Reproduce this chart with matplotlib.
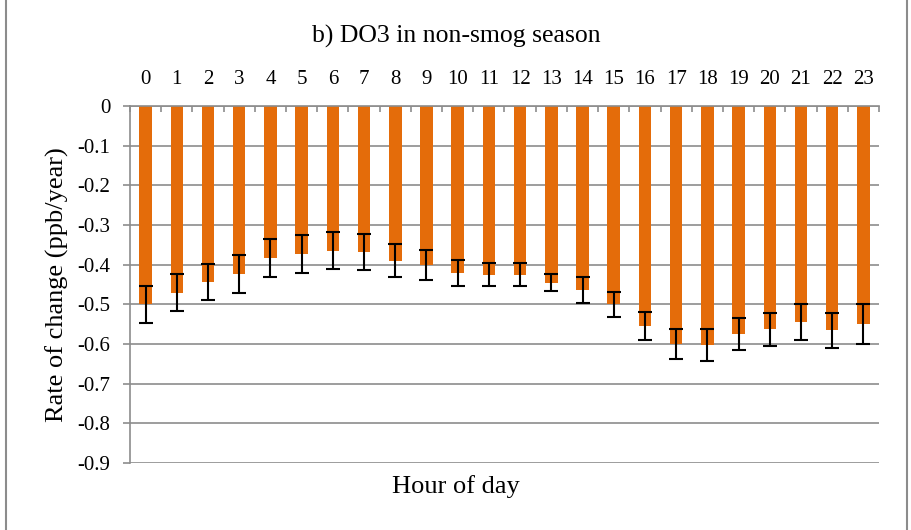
import matplotlib
matplotlib.use('Agg')
import matplotlib.pyplot as plt
from matplotlib.lines import Line2D
import numpy as np

plt.rcParams['font.family'] = ['Liberation Serif', 'DejaVu Serif']

hours = list(range(24))
rates = [-0.500, -0.471, -0.443, -0.423, -0.383, -0.373, -0.365, -0.368,
         -0.390, -0.400, -0.420, -0.425, -0.425, -0.445, -0.464, -0.500,
         -0.555, -0.600, -0.602, -0.575, -0.563, -0.545, -0.565, -0.550]
errors = [0.047, 0.047, 0.045, 0.048, 0.048, 0.048, 0.047, 0.046,
          0.042, 0.038, 0.033, 0.028, 0.028, 0.022, 0.033, 0.031,
          0.035, 0.039, 0.040, 0.041, 0.042, 0.045, 0.044, 0.050]
yticks = [0, -0.1, -0.2, -0.3, -0.4, -0.5, -0.6, -0.7, -0.8, -0.9]
ytick_labels = ['0', '-0.1', '-0.2', '-0.3', '-0.4', '-0.5', '-0.6', '-0.7', '-0.8', '-0.9']

grey = '#8c8c8c'
orange = '#e46c0a'

fig = plt.figure(figsize=(9.12, 5.30), dpi=100)
ax = fig.add_axes([130 / 912, 1 - 463 / 530, 749 / 912, 357 / 530])

ax.bar(hours, rates, width=0.4, color=orange, zorder=2,
       yerr=errors, error_kw=dict(ecolor='black', elinewidth=1.5,
                                  capsize=5, capthick=1.5, zorder=3))

ax.set_xlim(-0.5, 23.5)
ax.set_ylim(-0.9, 0)

# horizontal grid
ax.set_yticks(yticks)
ax.set_yticklabels(ytick_labels, fontsize=15)
ax.yaxis.grid(True, color=grey, linewidth=1.2, zorder=1)
ax.set_axisbelow(True)

# x axis on top, labels centred, small ticks at category borders
ax.xaxis.tick_top()
ax.set_xticks(hours)
ax.set_xticklabels([str(h) for h in hours], fontsize=15)
ax.set_xticks(np.arange(-0.5, 24, 1), minor=True)
ax.tick_params(axis='x', which='major', length=0, pad=12)
ax.tick_params(axis='x', which='minor', top=True, bottom=False,
               direction='in', length=4, color=grey, width=1.2)
ax.tick_params(axis='y', which='major', direction='out', length=5,
               color=grey, width=1.2, pad=9)

for side in ['right', 'bottom']:
    ax.spines[side].set_visible(False)
for side in ['left', 'top']:
    ax.spines[side].set_color(grey)
    ax.spines[side].set_linewidth(1.2)

ax.set_ylabel('Rate of change (ppb/year)', fontsize=19, labelpad=6)
fig.text(0.5, 1 - 487 / 530, 'Hour of day', fontsize=19,
         ha='center', va='center')
fig.text(456 / 912, 1 - 36 / 530, 'b) DO3 in non-smog season', fontsize=18.5,
         ha='center', va='center')

# chart border
fig.add_artist(Line2D([6.5 / 912, 6.5 / 912], [0, 1], color=grey, linewidth=1.5))
fig.add_artist(Line2D([907.5 / 912, 907.5 / 912], [0, 1], color=grey, linewidth=1.5))

fig.savefig('out.png', dpi=100)
